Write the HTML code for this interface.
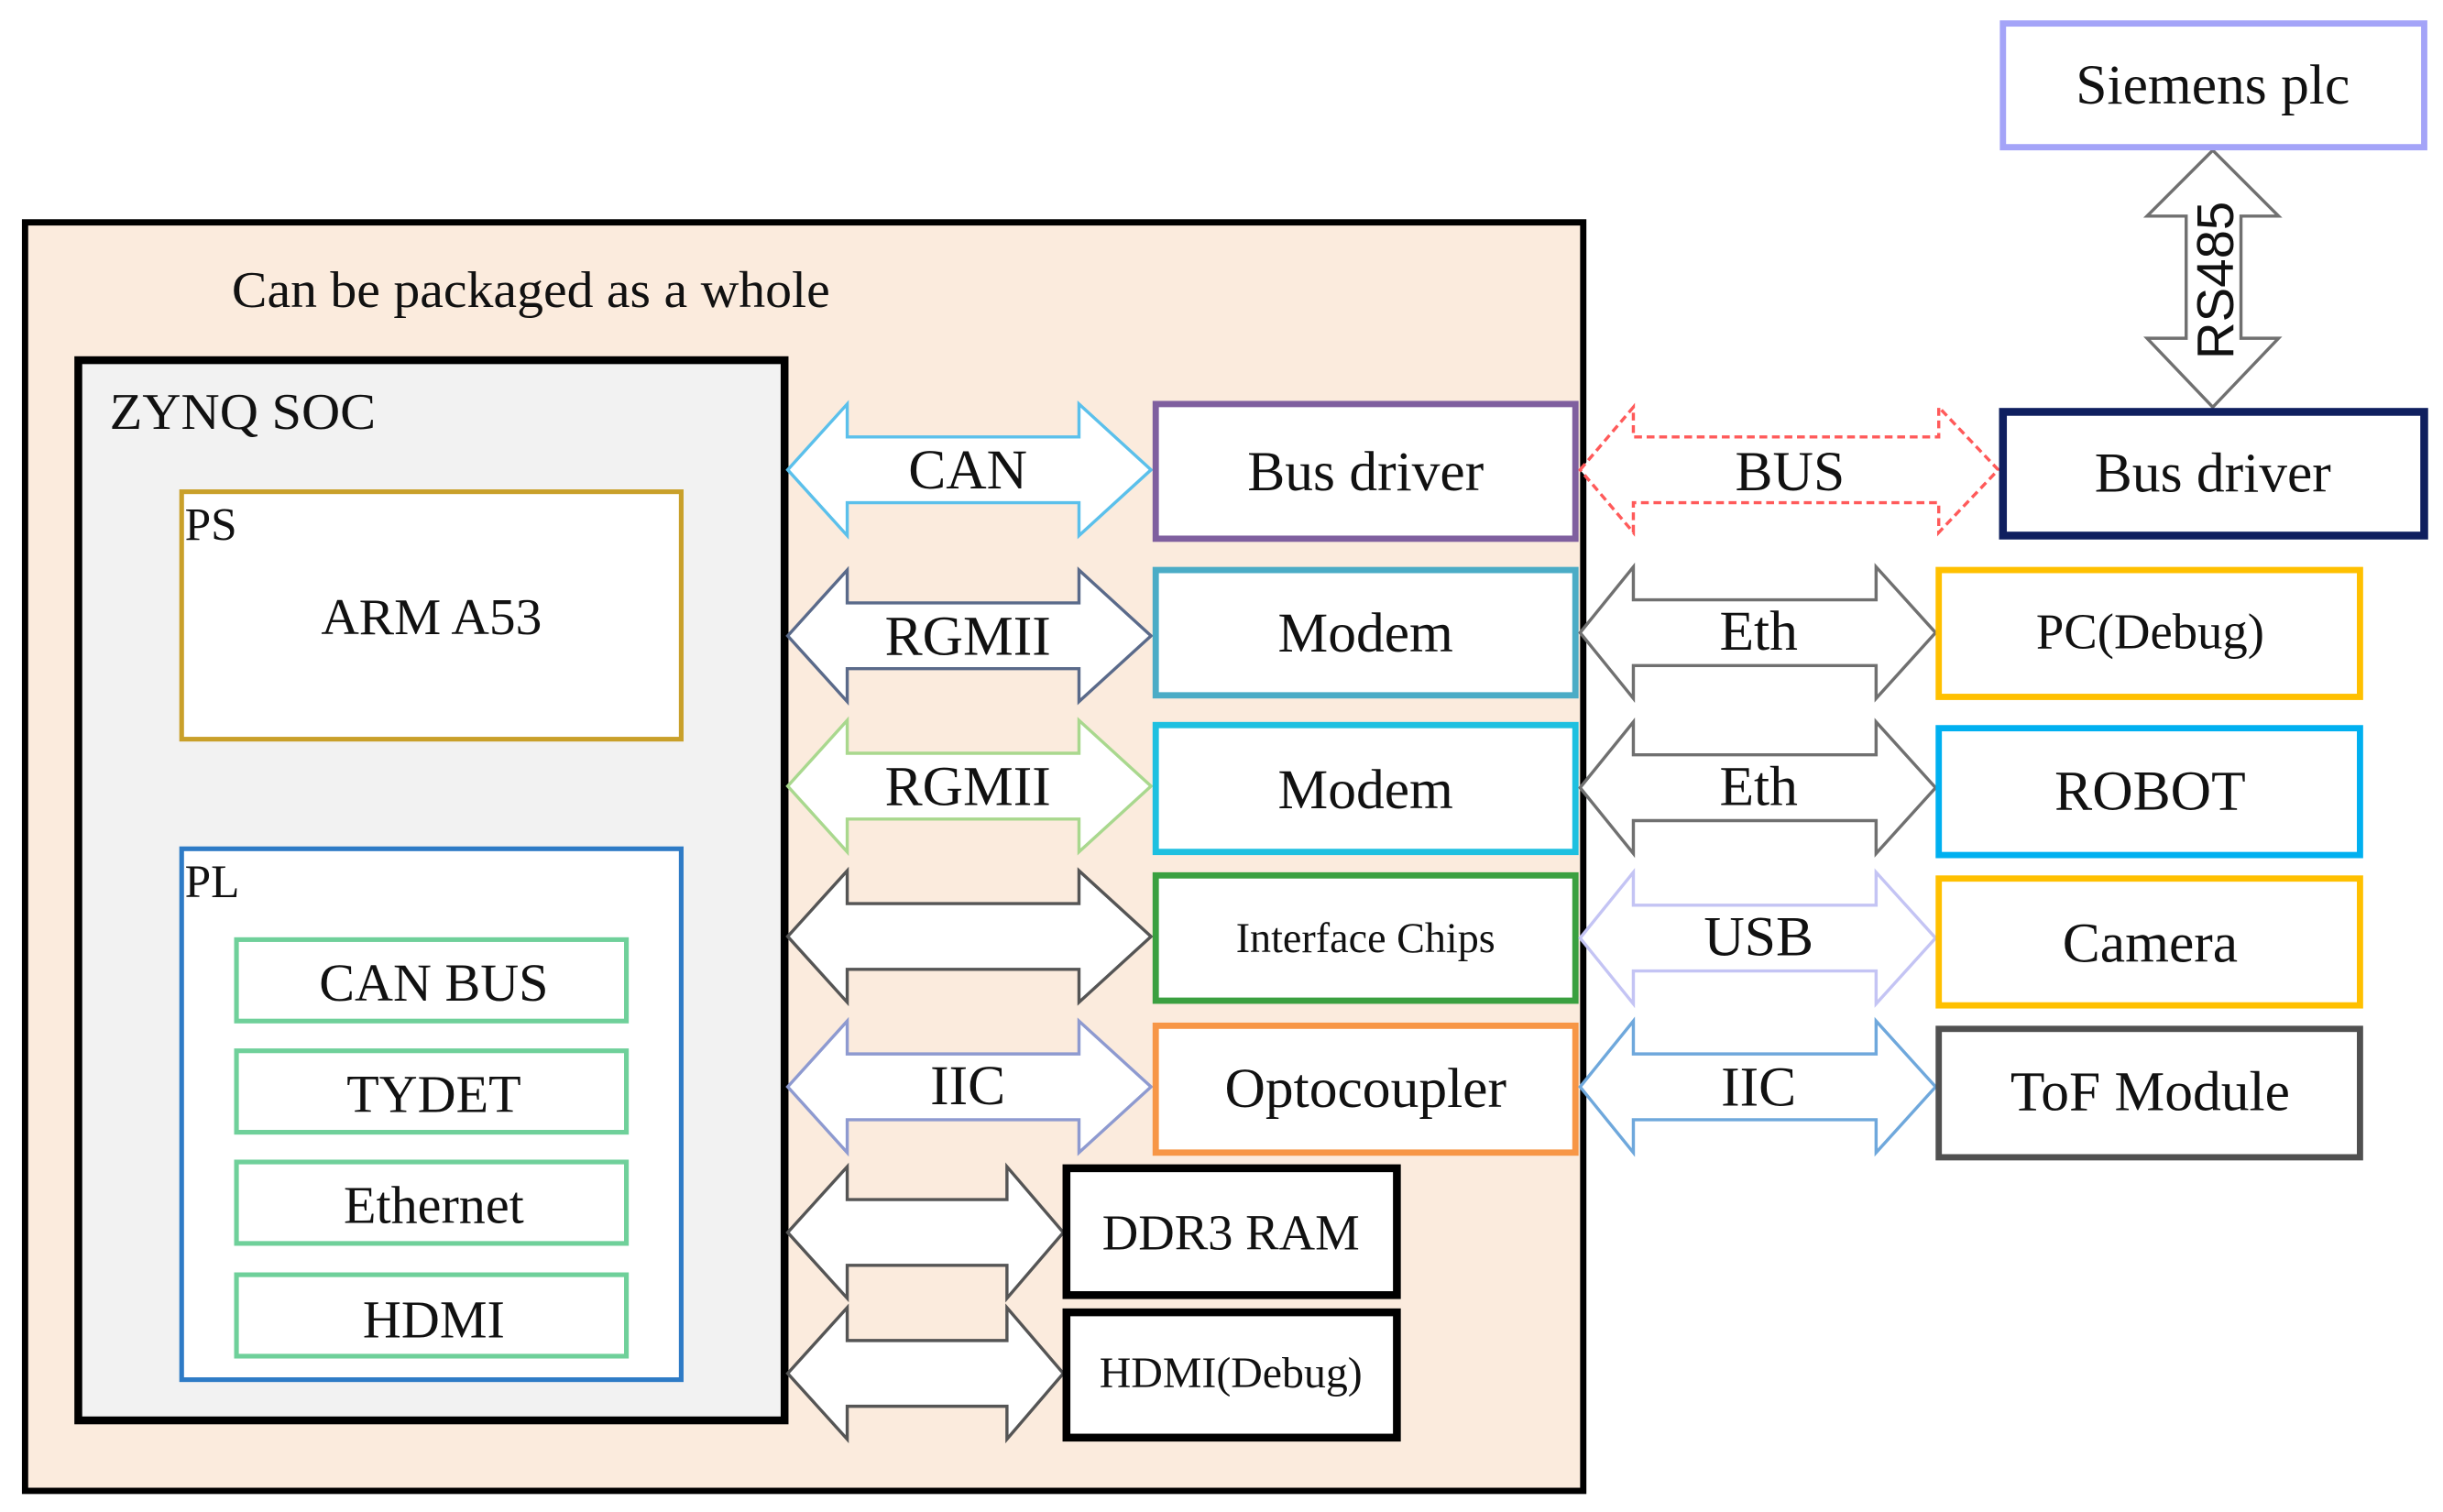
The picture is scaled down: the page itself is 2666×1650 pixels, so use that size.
<!DOCTYPE html>
<html><head><meta charset="utf-8"><style>
html,body{margin:0;padding:0;background:#fff;}
svg{display:block;}
text{font-family:"Liberation Serif",serif;fill:#111;}
</style></head><body>
<svg width="2666" height="1650" viewBox="0 0 1560 965.5" preserveAspectRatio="none" xmlns="http://www.w3.org/2000/svg">
<rect x="0" y="0" width="1560" height="965.5" fill="#fff"/>
<rect x="16" y="142" width="995" height="810" fill="#fbebdd" stroke="#000" stroke-width="4"/>
<text x="148" y="196" font-size="33" textLength="382" lengthAdjust="spacingAndGlyphs">Can be packaged as a whole</text>
<rect x="50" y="230" width="451" height="677" fill="#f2f2f2" stroke="#000" stroke-width="5"/>
<text x="70" y="274" font-size="33" textLength="170" lengthAdjust="spacingAndGlyphs">ZYNQ SOC</text>
<rect x="116" y="314" width="319" height="158" fill="#fff" stroke="#c9a02a" stroke-width="3"/>
<text x="118" y="345" font-size="30">PS</text>
<text x="205" y="405" font-size="33" textLength="141" lengthAdjust="spacingAndGlyphs">ARM A53</text>
<rect x="116" y="542" width="319" height="339" fill="#fff" stroke="#2e7bc6" stroke-width="3"/>
<text x="118" y="573" font-size="30">PL</text>
<g fill="#fff" stroke="#6fd09a" stroke-width="3">
<rect x="151" y="600" width="249" height="52"/>
<rect x="151" y="671" width="249" height="52"/>
<rect x="151" y="742" width="249" height="52"/>
<rect x="151" y="814" width="249" height="52"/>
</g>
<g font-size="34" text-anchor="middle">
<text x="277" y="639">CAN BUS</text>
<text x="277" y="710">TYDET</text>
<text x="277" y="781">Ethernet</text>
<text x="277" y="854">HDMI</text>
</g>
<g fill="#fff" stroke-width="2">
<path d="M503,300 L541,258 L541,279 L689,279 L689,258 L735,300 L689,342 L689,321 L541,321 L541,342 Z" stroke="#5bc0eb"/>
<path d="M503,406 L541,364 L541,385 L689,385 L689,364 L735,406 L689,448 L689,427 L541,427 L541,448 Z" stroke="#5a6a8a"/>
<path d="M503,502 L541,460 L541,481 L689,481 L689,460 L735,502 L689,544 L689,523 L541,523 L541,544 Z" stroke="#a9d88e"/>
<path d="M503,598 L541,556 L541,577 L689,577 L689,556 L735,598 L689,640 L689,619 L541,619 L541,640 Z" stroke="#555"/>
<path d="M503,694 L541,652 L541,673 L689,673 L689,652 L735,694 L689,736 L689,715 L541,715 L541,736 Z" stroke="#8e9ad0"/>
<path d="M503,787 L541,745 L541,766 L643,766 L643,745 L679,787 L643,829 L643,808 L541,808 L541,829 Z" stroke="#555"/>
<path d="M503,877 L541,835 L541,856 L643,856 L643,835 L679,877 L643,919 L643,898 L541,898 L541,919 Z" stroke="#555"/>
</g>
<g font-size="36" text-anchor="middle">
<text x="618" y="312">CAN</text>
<text x="618" y="418">RGMII</text>
<text x="618" y="514">RGMII</text>
<text x="618" y="705">IIC</text>
</g>
<g fill="#fff" stroke-width="4">
<rect x="738" y="258" width="268" height="86" stroke="#7f5f9f"/>
<rect x="738" y="364" width="268" height="80" stroke="#4bacc6"/>
<rect x="738" y="463" width="268" height="81" stroke="#1ec0e0"/>
<rect x="738" y="559" width="268" height="80" stroke="#3aa040"/>
<rect x="738" y="655" width="268" height="81" stroke="#f79646"/>
<rect x="681" y="746" width="211" height="81" stroke="#000" stroke-width="5"/>
<rect x="681" y="838" width="211" height="80" stroke="#000" stroke-width="5"/>
</g>
<g font-size="36" text-anchor="middle">
<text x="872" y="313">Bus driver</text>
<text x="872" y="416">Modem</text>
<text x="872" y="516">Modem</text>
<text x="872" y="608" font-size="27">Interface Chips</text>
<text x="872" y="707">Optocoupler</text>
<text x="786" y="798" font-size="32">DDR3 RAM</text>
<text x="786" y="886" font-size="28">HDMI(Debug)</text>
</g>
<g fill="#fff" stroke-width="2">
<path d="M1009,300 L1043,260 L1043,279 L1238,279 L1238,260 L1276,300 L1238,340 L1238,321 L1043,321 L1043,340 Z" stroke="#ff5a5a" stroke-dasharray="5,3"/>
<path d="M1009,404 L1043,362 L1043,383 L1198,383 L1198,362 L1236,404 L1198,446 L1198,425 L1043,425 L1043,446 Z" stroke="#707070"/>
<path d="M1009,503 L1043,461 L1043,482 L1198,482 L1198,461 L1236,503 L1198,545 L1198,524 L1043,524 L1043,545 Z" stroke="#707070"/>
<path d="M1009,599 L1043,557 L1043,578 L1198,578 L1198,557 L1236,599 L1198,641 L1198,620 L1043,620 L1043,641 Z" stroke="#c4c4f4"/>
<path d="M1009,694 L1043,652 L1043,673 L1198,673 L1198,652 L1236,694 L1198,736 L1198,715 L1043,715 L1043,736 Z" stroke="#6fa8dc"/>
</g>
<g font-size="36" text-anchor="middle">
<text x="1143" y="313">BUS</text>
<text x="1123" y="415">Eth</text>
<text x="1123" y="514">Eth</text>
<text x="1123" y="610">USB</text>
<text x="1123" y="706">IIC</text>
</g>
<path d="M1413,96 L1455,138 L1431,138 L1431,216 L1455,216 L1413,260 L1371,216 L1396,216 L1396,138 L1371,138 Z" fill="#fff" stroke="#707070" stroke-width="2"/>
<text transform="translate(1426,179) rotate(-90)" font-size="33" text-anchor="middle" style="font-family:'Liberation Sans',sans-serif">RS485</text>
<g fill="#fff" stroke-width="4">
<rect x="1279" y="15" width="269" height="79" stroke="#a4a4f8"/>
<rect x="1279" y="263" width="269" height="79" stroke="#0f1f5f" stroke-width="5"/>
<rect x="1238" y="364" width="269" height="81" stroke="#ffc000"/>
<rect x="1238" y="465" width="269" height="81" stroke="#00b0f0"/>
<rect x="1238" y="561" width="269" height="81" stroke="#ffc000"/>
<rect x="1238" y="657" width="269" height="82" stroke="#505050"/>
</g>
<g font-size="36" text-anchor="middle">
<text x="1413" y="66">Siemens plc</text>
<text x="1413" y="314">Bus driver</text>
<text x="1373" y="414" font-size="32">PC(Debug)</text>
<text x="1373" y="517">ROBOT</text>
<text x="1373" y="614">Camera</text>
<text x="1373" y="709">ToF Module</text>
</g>
</svg>
</body></html>
